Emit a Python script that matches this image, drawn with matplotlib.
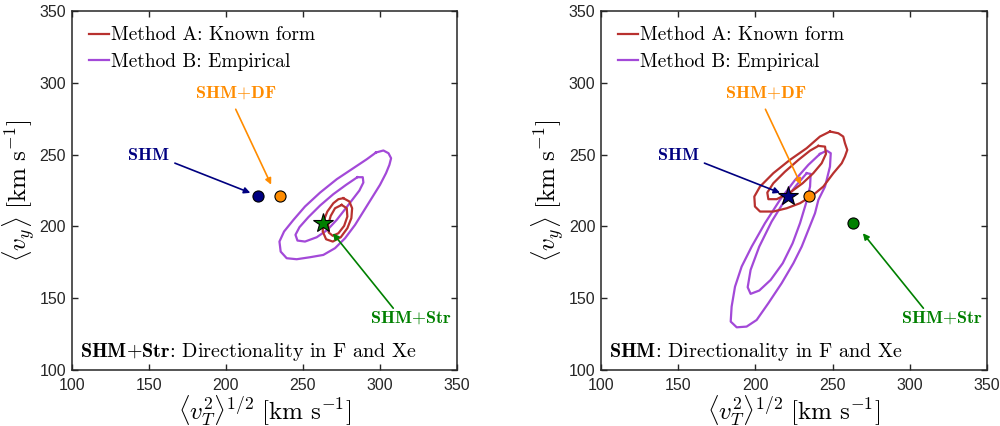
import matplotlib
matplotlib.use("Agg")
import matplotlib.pyplot as plt

# Puntos de referencia (km/s): <v_T^2>^(1/2), <v_y>
shm = (221, 221)
shm_df = (235, 221)
shm_str = (263, 202)

# Contornos: panel izquierdo (SHM+Str)
izq_b_ext_x = [297.6, 302.4, 305.7, 307.4, 306.3, 304.1, 300.2, 294.8, 289.4, 284.0, 277.5, 271.0, 263.4,
               254.8, 246.1, 239.6, 235.7, 234.9, 237.9, 244.0, 251.5, 261.3, 272.1, 282.9, 291.6, 297.6]
izq_b_ext_y = [251.4, 252.8, 250.9, 247.4, 242.8, 237.0, 228.9, 219.6, 210.3, 201.0, 191.7, 184.8, 180.1,
               178.5, 177.1, 177.8, 182.4, 189.4, 196.4, 204.5, 213.8, 223.5, 232.8, 240.5, 246.7, 251.4]
izq_b_int_x = [285.5, 289.0, 289.4, 286.8, 282.5, 277.5, 272.1, 266.0, 259.1, 251.5, 246.6, 245.3, 247.9,
               253.7, 261.3, 269.9, 278.2, 285.5]
izq_b_int_y = [234.2, 234.2, 230.5, 224.9, 218.9, 211.9, 204.5, 197.5, 192.4, 189.4, 190.1, 194.1, 199.4,
               206.4, 214.5, 222.4, 228.9, 234.2]
izq_a_ext_x = [276.4, 280.3, 282.1, 281.6, 279.0, 274.7, 269.5, 265.2, 263.0, 263.4, 266.0, 269.9, 273.2, 276.4]
izq_a_ext_y = [219.6, 217.3, 212.6, 205.7, 198.7, 192.4, 189.4, 191.0, 196.4, 203.3, 210.3, 216.1, 218.9, 219.6]
izq_a_int_x = [275.3, 278.6, 279.0, 276.9, 273.2, 269.5, 266.9, 266.5, 268.2, 271.0, 275.3]
izq_a_int_y = [214.9, 212.6, 206.8, 200.3, 195.2, 193.4, 195.7, 201.0, 207.3, 212.6, 214.9]

# Panel derecho (SHM)
der_a_ext_x = [248.3, 253.7, 256.9, 258.0, 259.5, 258.0, 255.9, 250.5, 244.0, 237.5, 228.9, 220.3, 211.6,
               203.0, 199.7, 199.3, 203.0, 211.6, 222.4, 233.2, 241.8, 248.3]
der_a_ext_y = [266.0, 264.8, 262.5, 257.9, 253.2, 248.6, 243.9, 237.0, 227.7, 221.9, 216.1, 212.6, 210.3,
               210.3, 213.8, 220.7, 227.7, 237.0, 246.3, 254.4, 262.5, 266.0]
der_a_int_x = [240.8, 245.1, 245.7, 242.9, 237.5, 230.6, 222.4, 213.8, 208.4, 207.7, 211.6, 219.2, 227.8,
               235.4, 240.8]
der_a_int_y = [256.0, 255.5, 250.4, 243.9, 237.0, 230.0, 223.5, 218.9, 218.9, 223.5, 230.0, 238.1, 246.2,
               252.7, 256.0]
der_b_ext_x = [241.8, 246.2, 248.8, 248.3, 245.1, 240.8, 238.6, 234.3, 230.0, 224.6, 217.0, 208.4, 200.8,
               194.3, 187.9, 184.0, 184.6, 186.8, 191.1, 197.6, 206.2, 215.9, 225.7, 234.3, 241.8]
der_b_ext_y = [250.4, 252.7, 250.9, 241.6, 227.7, 218.4, 209.1, 197.5, 185.9, 174.3, 160.4, 146.5, 134.8,
               130.2, 129.7, 133.7, 144.1, 158.0, 172.0, 185.9, 202.2, 218.4, 232.3, 242.8, 250.4]
der_b_int_x = [233.2, 235.8, 235.4, 232.8, 228.9, 224.1, 217.7, 209.9, 202.5, 196.9, 195.0, 196.9, 202.5,
               210.5, 219.2, 226.7, 233.2]
der_b_int_y = [237.0, 236.5, 227.7, 216.1, 202.2, 188.2, 174.3, 162.7, 155.3, 153.0, 157.6, 169.7, 185.9,
               203.3, 218.4, 228.8, 237.0]

# Etiquetas: (texto, posicion del texto, inicio flecha, punta flecha, color)
etiquetas = [
    (r'$\mathbf{SHM}$', (150, 250), (167, 244), (216, 223.3), '#000080'),
    (r'$\mathbf{SHM{+}DF}$', (206.5, 293), (206.5, 281.5), (229.5, 229), '#FF8C00'),
    (r'$\mathbf{SHM{+}Str}$', (320.5, 136.7), (308.8, 143), (269.6, 195.2), '#008000'),
]

titulos = [r'$\mathbf{SHM{+}Str}$: Directionality in F and Xe',
           r'$\mathbf{SHM}$: Directionality in F and Xe']

ticks = [100, 150, 200, 250, 300, 350]

rojo = '#B8312F'
morado = '#A349D8'

plt.rcParams['mathtext.fontset'] = 'cm'
plt.rcParams['font.family'] = 'cmr10'
plt.rcParams['axes.unicode_minus'] = False
plt.rcParams['axes.formatter.use_mathtext'] = True

fig = plt.figure(figsize=(10, 4.26), dpi=100)
ax1 = fig.add_axes([0.0717, 0.1315, 0.385, 0.843])
ax2 = fig.add_axes([0.601, 0.1315, 0.386, 0.843])

paneles = [
    (ax1, [(izq_a_ext_x, izq_a_ext_y), (izq_a_int_x, izq_a_int_y)],
     [(izq_b_ext_x, izq_b_ext_y), (izq_b_int_x, izq_b_int_y)], 'str', titulos[0]),
    (ax2, [(der_a_ext_x, der_a_ext_y), (der_a_int_x, der_a_int_y)],
     [(der_b_ext_x, der_b_ext_y), (der_b_int_x, der_b_int_y)], 'shm', titulos[1]),
]

for ax, cont_a, cont_b, verdadero, titulo in paneles:
    for i, (cx, cy) in enumerate(cont_b):
        ax.plot(cx, cy, color=morado, lw=1.6, zorder=2,
                label='Method B: Empirical' if i == 0 else None)
    for i, (cx, cy) in enumerate(cont_a):
        ax.plot(cx, cy, color=rojo, lw=1.6, zorder=3,
                label='Method A: Known form' if i == 0 else None)

    # Puntos de los modelos
    if verdadero == 'shm':
        ax.plot(*shm, marker='*', ms=15, color='#000080', mec='k', mew=0.8, zorder=6)
        ax.plot(*shm_str, marker='o', ms=8, color='#008000', mec='k', mew=0.8, zorder=5)
    else:
        ax.plot(*shm, marker='o', ms=8, color='#000080', mec='k', mew=0.8, zorder=5)
        ax.plot(*shm_str, marker='*', ms=15, color='#008000', mec='k', mew=0.8, zorder=6)
    ax.plot(*shm_df, marker='o', ms=8, color='#FF8C00', mec='k', mew=0.8, zorder=5)

    for texto, pos, ini, punta, col in etiquetas:
        ax.text(pos[0], pos[1], texto, color=col, fontsize=13, ha='center', va='center')
        ax.annotate('', xy=punta, xytext=ini,
                    arrowprops=dict(arrowstyle='-|>', color=col, lw=1.2,
                                    mutation_scale=9, shrinkA=0, shrinkB=0),
                    zorder=4)

    ax.text(105.5, 112.5, titulo, fontsize=14.5, ha='left', va='center')

    ax.set_xlim(100, 350)
    ax.set_ylim(100, 350)
    ax.set_xticks(ticks)
    ax.set_yticks(ticks)
    ax.set_xticklabels([str(t) for t in ticks], family='Liberation Sans', fontsize=11.5, color='#262626')
    ax.set_yticklabels([str(t) for t in ticks], family='Liberation Sans', fontsize=11.5, color='#262626')
    ax.tick_params(direction='in', top=True, right=True, length=4, width=1, color='#262626')
    ax.tick_params(axis='x', pad=6)
    ax.tick_params(axis='y', pad=4)
    for s in ax.spines.values():
        s.set_linewidth(1.1)
        s.set_color('#262626')
    ax.set_xlabel(r'$\langle v_T^2 \rangle^{1/2}\ [\mathrm{km\ s^{-1}}]$', fontsize=18, labelpad=0)
    ax.set_ylabel(r'$\langle v_y \rangle\ [\mathrm{km\ s^{-1}}]$', fontsize=18, labelpad=1)

    h, l = ax.get_legend_handles_labels()
    orden = [l.index('Method A: Known form'), l.index('Method B: Empirical')]
    ax.legend([h[i] for i in orden], [l[i] for i in orden], loc='upper left',
              bbox_to_anchor=(0.005, 1.0), frameon=False, fontsize=14,
              handlelength=1.0, handletextpad=0.12, labelspacing=0.45, borderpad=0.3)

fig.savefig('out.png', dpi=100)
